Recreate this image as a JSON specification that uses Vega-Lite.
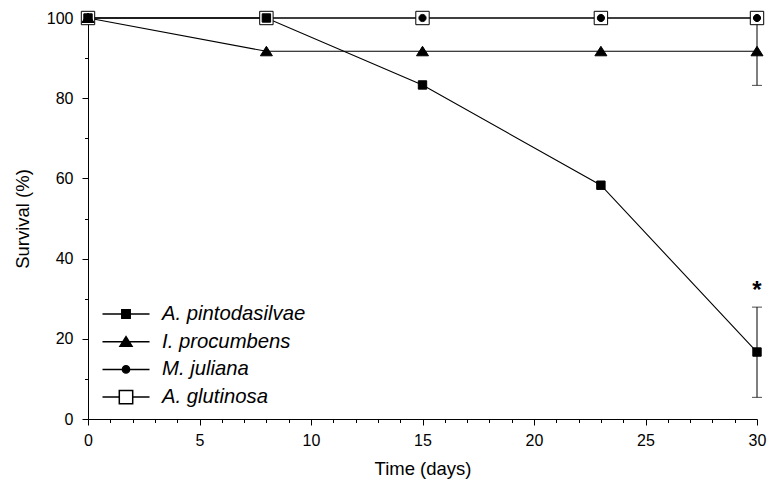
{
  "$schema": "https://vega.github.io/schema/vega-lite/v6.json",
  "width": 669,
  "height": 401,
  "autosize": "none",
  "padding": {"left": 88, "top": 18, "right": 19, "bottom": 62},
  "background": "white",
  "config": {
    "view": {"stroke": null},
    "font": "Liberation Sans",
    "axis": {
      "grid": false,
      "domainColor": "black",
      "tickColor": "black",
      "labelColor": "black",
      "titleColor": "black",
      "labelFont": "Liberation Sans",
      "titleFont": "Liberation Sans",
      "labelFontSize": 16,
      "titleFontSize": 18.5,
      "titleFontWeight": "normal",
      "domainWidth": 1,
      "tickWidth": 1,
      "labelOverlap": false
    }
  },
  "datasets": {
    "surv": [
      {"species": "A. glutinosa", "day": 0, "survival": 100},
      {"species": "A. glutinosa", "day": 8, "survival": 100},
      {"species": "A. glutinosa", "day": 15, "survival": 100},
      {"species": "A. glutinosa", "day": 23, "survival": 100},
      {"species": "A. glutinosa", "day": 30, "survival": 100},
      {"species": "M. juliana", "day": 0, "survival": 100},
      {"species": "M. juliana", "day": 8, "survival": 100},
      {"species": "M. juliana", "day": 15, "survival": 100},
      {"species": "M. juliana", "day": 23, "survival": 100},
      {"species": "M. juliana", "day": 30, "survival": 100},
      {"species": "A. pintodasilvae", "day": 0, "survival": 100},
      {"species": "A. pintodasilvae", "day": 8, "survival": 100},
      {"species": "A. pintodasilvae", "day": 15, "survival": 83.3},
      {"species": "A. pintodasilvae", "day": 23, "survival": 58.3},
      {"species": "A. pintodasilvae", "day": 30, "survival": 16.7},
      {"species": "I. procumbens", "day": 0, "survival": 100},
      {"species": "I. procumbens", "day": 8, "survival": 91.7},
      {"species": "I. procumbens", "day": 15, "survival": 91.7},
      {"species": "I. procumbens", "day": 23, "survival": 91.7},
      {"species": "I. procumbens", "day": 30, "survival": 91.7}
    ],
    "err": [
      {"species": "A. pintodasilvae", "day": 30, "lower": 5.4, "upper": 27.9},
      {"species": "I. procumbens", "day": 30, "lower": 83.2, "upper": 100}
    ],
    "sig": [
      {"day": 30, "y": 33, "label": "*"}
    ]
  },
  "resolve": {
    "scale": {"shape": "independent", "fill": "independent"}
  },
  "layer": [
    {
      "data": {"name": "surv"},
      "mark": {"type": "line", "color": "black", "strokeWidth": 1.1},
      "encoding": {
        "x": {
          "field": "day", "type": "quantitative", "title": "Time (days)",
          "scale": {"domain": [0, 30], "nice": false, "zero": false},
          "axis": {
            "orient": "bottom",
            "values": [0,1,2,3,4,5,6,7,8,9,10,11,12,13,14,15,16,17,18,19,20,21,22,23,24,25,26,27,28,29,30],
            "labelExpr": "datum.value % 5 === 0 ? datum.label : ''",
            "tickSize": {"condition": {"test": "datum.value % 5 === 0", "value": 6}, "value": 3.5},
            "labelOverlap": false,
            "labelFlush": false,
            "labelPadding": 7,
            "titlePadding": 11
          }
        },
        "y": {
          "field": "survival", "type": "quantitative", "title": "Survival (%)",
          "scale": {"domain": [0, 100], "nice": false},
          "axis": {
            "orient": "left",
            "values": [0,10,20,30,40,50,60,70,80,90,100],
            "labelExpr": "datum.value % 20 === 0 ? datum.label : ''",
            "tickSize": {"condition": {"test": "datum.value % 20 === 0", "value": 6}, "value": 3.5},
            "labelOverlap": false,
            "labelFlush": false,
            "labelPadding": 9,
            "titlePadding": 14
          }
        },
        "detail": {"field": "species"}
      }
    },
    {
      "data": {"name": "err"},
      "mark": {"type": "errorbar", "color": "black", "ticks": {"size": 10, "color": "black"}},
      "encoding": {
        "x": {
          "field": "day", "type": "quantitative", "title": "Time (days)",
          "axis": {
            "orient": "bottom",
            "values": [0,1,2,3,4,5,6,7,8,9,10,11,12,13,14,15,16,17,18,19,20,21,22,23,24,25,26,27,28,29,30],
            "labelExpr": "datum.value % 5 === 0 ? datum.label : ''",
            "tickSize": {"condition": {"test": "datum.value % 5 === 0", "value": 6}, "value": 3.5},
            "labelOverlap": false,
            "labelFlush": false,
            "labelPadding": 7,
            "titlePadding": 11
          }
        },
        "y": {
          "field": "lower", "type": "quantitative", "title": "Survival (%)",
          "axis": {
            "orient": "left",
            "values": [0,10,20,30,40,50,60,70,80,90,100],
            "labelExpr": "datum.value % 20 === 0 ? datum.label : ''",
            "tickSize": {"condition": {"test": "datum.value % 20 === 0", "value": 6}, "value": 3.5},
            "labelOverlap": false,
            "labelFlush": false,
            "labelPadding": 9,
            "titlePadding": 14
          }
        },
        "y2": {"field": "upper"}
      }
    },
    {
      "data": {"name": "surv"},
      "mark": {"type": "point", "size": 400, "stroke": "black", "strokeWidth": 1, "opacity": 1},
      "encoding": {
        "x": {
          "field": "day", "type": "quantitative", "title": "Time (days)",
          "axis": {
            "orient": "bottom",
            "values": [0,1,2,3,4,5,6,7,8,9,10,11,12,13,14,15,16,17,18,19,20,21,22,23,24,25,26,27,28,29,30],
            "labelExpr": "datum.value % 5 === 0 ? datum.label : ''",
            "tickSize": {"condition": {"test": "datum.value % 5 === 0", "value": 6}, "value": 3.5},
            "labelOverlap": false,
            "labelFlush": false,
            "labelPadding": 7,
            "titlePadding": 11
          }
        },
        "y": {
          "field": "survival", "type": "quantitative", "title": "Survival (%)",
          "axis": {
            "orient": "left",
            "values": [0,10,20,30,40,50,60,70,80,90,100],
            "labelExpr": "datum.value % 20 === 0 ? datum.label : ''",
            "tickSize": {"condition": {"test": "datum.value % 20 === 0", "value": 6}, "value": 3.5},
            "labelOverlap": false,
            "labelFlush": false,
            "labelPadding": 9,
            "titlePadding": 14
          }
        },
        "shape": {
          "field": "species",
          "type": "nominal",
          "scale": {
            "domain": ["A. pintodasilvae", "I. procumbens", "M. juliana", "A. glutinosa"],
            "range": [
              "M-0.42,-0.42H0.42V0.42H-0.42Z",
              "M0,-0.5L0.6,0.45H-0.6Z",
              "M-0.36,0A0.36,0.36,0,1,0,0.36,0A0.36,0.36,0,1,0,-0.36,0Z",
              "M-0.67,-0.67H0.67V0.67H-0.67Z"
            ]
          },
          "legend": null
        },
        "fill": {
          "field": "species",
          "type": "nominal",
          "scale": {
            "domain": ["A. pintodasilvae", "I. procumbens", "M. juliana", "A. glutinosa"],
            "range": ["black", "black", "black", "white"]
          },
          "legend": null
        }
      }
    },
    {
      "data": {"name": "surv"},
      "transform": [{"filter": "false"}],
      "mark": {"type": "point", "size": 400, "stroke": "black", "strokeWidth": 1, "opacity": 1},
      "encoding": {
        "x": {
          "field": "day", "type": "quantitative", "title": "Time (days)",
          "axis": {
            "orient": "bottom",
            "values": [0,1,2,3,4,5,6,7,8,9,10,11,12,13,14,15,16,17,18,19,20,21,22,23,24,25,26,27,28,29,30],
            "labelExpr": "datum.value % 5 === 0 ? datum.label : ''",
            "tickSize": {"condition": {"test": "datum.value % 5 === 0", "value": 6}, "value": 3.5},
            "labelOverlap": false,
            "labelFlush": false,
            "labelPadding": 7,
            "titlePadding": 11
          }
        },
        "y": {
          "field": "survival", "type": "quantitative", "title": "Survival (%)",
          "axis": {
            "orient": "left",
            "values": [0,10,20,30,40,50,60,70,80,90,100],
            "labelExpr": "datum.value % 20 === 0 ? datum.label : ''",
            "tickSize": {"condition": {"test": "datum.value % 20 === 0", "value": 6}, "value": 3.5},
            "labelOverlap": false,
            "labelFlush": false,
            "labelPadding": 9,
            "titlePadding": 14
          }
        },
        "shape": {
          "field": "species",
          "type": "nominal",
          "scale": {
            "domain": ["A. pintodasilvae", "I. procumbens", "M. juliana", "A. glutinosa"],
            "range": [
              "M-2.35,0H2.35M-0.42,-0.42H0.42V0.42H-0.42Z",
              "M-2.35,0H2.35M0,-0.5L0.6,0.45H-0.6Z",
              "M-2.35,0H2.35M-0.36,0A0.36,0.36,0,1,0,0.36,0A0.36,0.36,0,1,0,-0.36,0Z",
              "M-2.35,0H-0.67M0.67,0H2.35M-0.67,-0.67H0.67V0.67H-0.67Z"
            ]
          },
          "legend": {
            "title": null,
            "orient": "none",
            "legendX": 27,
            "legendY": 285,
            "symbolSize": 400,
            "labelOffset": 25,
            "labelFontSize": 20.3,
            "labelFontStyle": "italic",
            "labelFont": "Liberation Sans",
            "labelColor": "black",
            "labelLimit": 400,
            "rowPadding": 5.7,
            "padding": 0,
            "encode": {"symbols": {"stroke": {"value": "black"}, "strokeWidth": {"value": 1}, "opacity": {"value": 1}}}
          }
        },
        "fill": {
          "field": "species",
          "type": "nominal",
          "scale": {
            "domain": ["A. pintodasilvae", "I. procumbens", "M. juliana", "A. glutinosa"],
            "range": ["black", "black", "black", "white"]
          },
          "legend": {
            "title": null,
            "orient": "none",
            "legendX": 27,
            "legendY": 285,
            "symbolSize": 400,
            "labelOffset": 25,
            "labelFontSize": 20.3,
            "labelFontStyle": "italic",
            "labelFont": "Liberation Sans",
            "labelColor": "black",
            "labelLimit": 400,
            "rowPadding": 5.7,
            "padding": 0,
            "encode": {"symbols": {"stroke": {"value": "black"}, "strokeWidth": {"value": 1}, "opacity": {"value": 1}}}
          }
        }
      }
    },
    {
      "data": {"name": "sig"},
      "mark": {"type": "text", "fontSize": 24, "fontWeight": "bold", "font": "Liberation Sans", "color": "black", "baseline": "middle", "dy": 4},
      "encoding": {
        "x": {
          "field": "day", "type": "quantitative", "title": "Time (days)",
          "axis": {
            "orient": "bottom",
            "values": [0,1,2,3,4,5,6,7,8,9,10,11,12,13,14,15,16,17,18,19,20,21,22,23,24,25,26,27,28,29,30],
            "labelExpr": "datum.value % 5 === 0 ? datum.label : ''",
            "tickSize": {"condition": {"test": "datum.value % 5 === 0", "value": 6}, "value": 3.5},
            "labelOverlap": false,
            "labelFlush": false,
            "labelPadding": 7,
            "titlePadding": 11
          }
        },
        "y": {
          "field": "y", "type": "quantitative", "title": "Survival (%)",
          "axis": {
            "orient": "left",
            "values": [0,10,20,30,40,50,60,70,80,90,100],
            "labelExpr": "datum.value % 20 === 0 ? datum.label : ''",
            "tickSize": {"condition": {"test": "datum.value % 20 === 0", "value": 6}, "value": 3.5},
            "labelOverlap": false,
            "labelFlush": false,
            "labelPadding": 9,
            "titlePadding": 14
          }
        },
        "text": {"field": "label"}
      }
    }
  ]
}
